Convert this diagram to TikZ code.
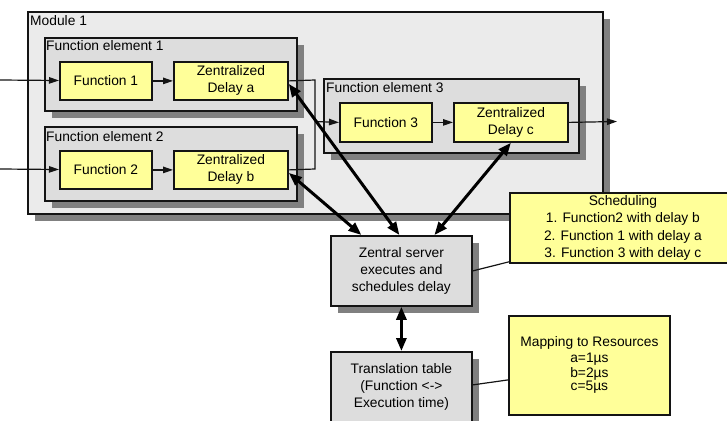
\documentclass[tikz,border=0pt]{standalone}
\usepackage{fontspec}
\setmainfont{Liberation Sans}
\usetikzlibrary{arrows.meta}

\definecolor{modfill}{RGB}{235,235,235}
\definecolor{elemfill}{RGB}{221,221,221}
\definecolor{fnyellow}{RGB}{255,255,153}
\definecolor{shadowgray}{RGB}{128,128,128}
\definecolor{edge}{RGB}{20,20,20}

\begin{document}
\begin{tikzpicture}[x=1pt,y=-1pt,
  font=\fontsize{13.8}{17}\selectfont,
  shadowed/.style={preaction={draw=none,fill=shadowgray,transform canvas={shift={(7pt,-7pt)}}}},
  panel/.style={draw=edge,line width=1.8pt,inner sep=0pt,anchor=north west,align=center},
  module/.style={panel,fill=modfill,shadowed},
  element/.style={panel,fill=elemfill,shadowed},
  func/.style={panel,fill=fnyellow},
  note/.style={panel,fill=fnyellow},
  caption/.style={anchor=base west,inner sep=0pt},
  flow/.style={-{Triangle[length=10pt,width=6.5pt]},line width=1.2pt,draw=edge},
  thin/.style={line width=1.2pt,draw=edge},
  link/.style={{Triangle[length=13pt,width=10pt]}-{Triangle[length=13pt,width=10pt]},line width=3pt,draw=black},
]
\useasboundingbox (0,0) rectangle (727,420);
\clip (0,0) rectangle (727,420);

% containers
\node[module,minimum width=575pt,minimum height=202pt] (mod) at (27,11) {};
\node[element,minimum width=252pt,minimum height=73pt] (fe1) at (44,37) {};
\node[element,minimum width=252pt,minimum height=74pt] (fe2) at (44,126) {};
\node[element,minimum width=255pt,minimum height=74pt] (fe3) at (323,78) {};

\node[caption] (modlbl) at (30,26) {Module 1};
\node[caption] (fe1lbl) at (46,51) {Function element 1};
\node[caption] (fe2lbl) at (46,141) {Function element 2};
\node[caption] (fe3lbl) at (326,92) {Function element 3};

% functions and delays
\node[func,minimum width=92pt,minimum height=38pt] (f1) at (59,61) {Function 1};
\node[func,minimum width=114pt,minimum height=38pt] (da) at (173,61) {Zentralized\\Delay a};
\node[func,minimum width=92pt,minimum height=38pt] (f2) at (59,150) {Function 2};
\node[func,minimum width=114pt,minimum height=38pt] (db) at (173,150) {Zentralized\\Delay b};
\node[func,minimum width=92pt,minimum height=39pt] (f3) at (339,102) {Function 3};
\node[func,minimum width=114pt,minimum height=39pt] (dc) at (453,102) {Zentralized\\Delay c};

% server and translation table
\node[element,minimum width=141pt,minimum height=70pt] (srv) at (330,235)
  {Zentral server\\executes and\\schedules delay};
\node[element,minimum width=141pt,minimum height=70pt] (tab) at (330,351)
  {Translation table\\(Function <->\\Execution time)};

% notes
\node[note,minimum width=226pt,minimum height=70pt,font=\fontsize{13.8}{17.5}\selectfont] (sched) at (509,192)
  {Scheduling\\1. Function2 with delay b\\2. Function 1 with delay a\\3. Function 3 with delay c};
\node[note,minimum width=161pt,minimum height=99pt] (map) at (508,315)
  {Mapping to Resources\\[-1pt]a=1µs\\[-2pt]b=2µs\\[-4pt]c=5µs};

% signal flow
\coordinate (in1) at (0,80);
\coordinate (in2) at (0,169);
\coordinate (ta) at (315,80);
\coordinate (tb) at (315,169);
\coordinate (tj) at (315,121.5);
\coordinate (out) at (617,121.5);

\draw[flow] (in1) -- (f1);
\draw[flow] (in2) -- (f2);
\draw[flow] (f1) -- (da);
\draw[flow] (f2) -- (db);
\draw[thin] (da.east) -- (ta) -- (tb) -- (db.east);
\draw[flow] (tj) -- (f3.west);
\draw[flow] (f3) -- (dc);
\draw[flow] (dc.east) -- (out);

% control links to the server
\draw[link] ([yshift=-3pt]da.east) -- ([xshift=-2pt]srv.north);
\draw[link] ([yshift=-3pt]db.east) -- ([xshift=-40pt]srv.north);
\draw[link] (dc.south) -- ([xshift=33pt]srv.north);
\draw[link] (srv.south) -- (tab.north);

% note pointers
\draw[thin] (srv.east) -- ([yshift=2pt]sched.south west);
\draw[thin] ([yshift=2pt]tab.east) -- ([yshift=-14.5pt]map.west);
\end{tikzpicture}
\end{document}
